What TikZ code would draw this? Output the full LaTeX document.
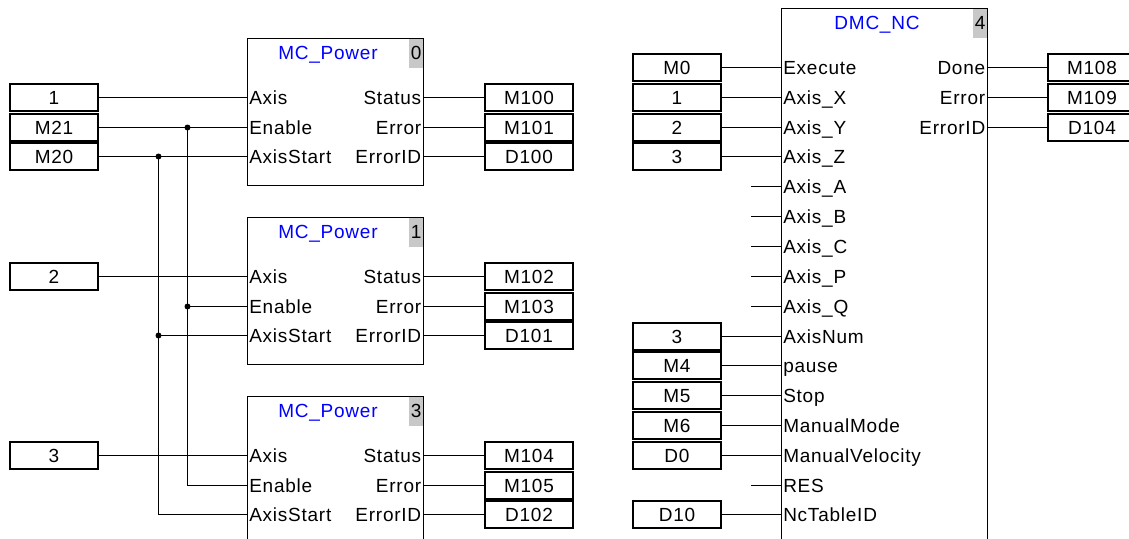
\documentclass[tikz,border=0pt]{standalone}
\usepackage{fontspec}
\newfontfamily\plcfont{Liberation Sans}[LetterSpace=4]
\newdimen\pxu \pxu=0.75pt
\definecolor{numgray}{RGB}{200,200,200}
\definecolor{titleblue}{RGB}{0,0,255}
\newcommand{\plc}{\plcfont\fontsize{14.25}{17}\selectfont}
\begin{document}
\begin{tikzpicture}[x=0.75pt,y=-0.75pt,
  wire/.style={line width=1\pxu},
  valbox/.style={draw, line width=2\pxu, minimum width=88\pxu, minimum height=27\pxu,
    inner sep=0pt, outer sep=0pt, font=\plc, text height=10.2pt, text depth=0pt},
  fblock/.style={draw, line width=1.2\pxu, inner sep=0pt, outer sep=0pt, anchor=north west, minimum width=176\pxu},
  numbox/.style={fill=numgray, minimum width=14\pxu, minimum height=29\pxu, anchor=north east,
    inner sep=0pt, font=\plc},
  pinl/.style={anchor=west, inner sep=0pt, font=\plc, text height=10.2pt, text depth=0pt},
  pinr/.style={anchor=east, inner sep=0pt, font=\plc, text height=10.2pt, text depth=0pt},
  ftitle/.style={inner sep=0pt, font=\plc, text=titleblue, text height=10.2pt, text depth=0pt},
  jdot/.style={circle, fill, inner sep=0pt, minimum size=6\pxu}
]
\useasboundingbox (0,0) rectangle (1129,539);
\clip (0,0) rectangle (1129,539);
\fill[white] (0,0) rectangle (1129,539);

% ---------- MC_Power blocks ----------
\foreach \n/\T/\oa/\ob/\oc in {0/38/M100/M101/D100, 1/217/M102/M103/D101, 3/396/M104/M105/D102} {
  \node[numbox] (g\n) at (423.5,\T+0.5) {\n};
  \node[fblock, minimum height=147\pxu] (b\n) at (247.5,\T+0.5) {};
  \node[ftitle] (t\n) at (328,\T+15) {MC\_Power};
  \coordinate (b\n-ax) at (247.5,\T+59.5);
  \coordinate (b\n-en) at (247.5,\T+89.5);
  \coordinate (b\n-as) at (247.5,\T+118.5);
  \coordinate (b\n-st) at (423.5,\T+59.5);
  \coordinate (b\n-er) at (423.5,\T+89.5);
  \coordinate (b\n-id) at (423.5,\T+118.5);
  \node[pinl] (l\n a) at (249,\T+59.5) {Axis};
  \node[pinl] (l\n b) at (249,\T+89.5) {Enable};
  \node[pinl] (l\n c) at (249,\T+118.5) {AxisStart};
  \node[pinr] (r\n a) at (421.5,\T+59.5) {Status};
  \node[pinr] (r\n b) at (421.5,\T+89.5) {Error};
  \node[pinr] (r\n c) at (421.5,\T+118.5) {ErrorID};
  \node[valbox] (o\n a) at (529,\T+59.5) {\oa};
  \node[valbox] (o\n b) at (529,\T+89.5) {\ob};
  \node[valbox] (o\n c) at (529,\T+118.5) {\oc};
  \draw[wire] (b\n-st) -- (o\n a.west);
  \draw[wire] (b\n-er) -- (o\n b.west);
  \draw[wire] (b\n-id) -- (o\n c.west);
}

% inputs of MC_Power blocks
\node[valbox] (i1) at (54,97.5) {1};
\node[valbox] (i21) at (54,127.5) {M21};
\node[valbox] (i20) at (54,156.5) {M20};
\node[valbox] (i2) at (54,276.5) {2};
\node[valbox] (i3) at (54,455.5) {3};
\draw[wire] (i1.east) -- (b0-ax);
\draw[wire] (i21.east) -- (b0-en);
\draw[wire] (i20.east) -- (b0-as);
\draw[wire] (i2.east) -- (b1-ax);
\draw[wire] (i3.east) -- (b3-ax);

% buses
\coordinate (je0) at (187.5,127.5);
\coordinate (je1) at (187.5,306.5);
\coordinate (je3) at (187.5,485.5);
\coordinate (js0) at (158.5,156.5);
\coordinate (js1) at (158.5,335.5);
\coordinate (js3) at (158.5,514.5);
\draw[wire] (je0) -- (je3) -- (b3-en);
\draw[wire] (je1) -- (b1-en);
\draw[wire] (js0) -- (js3) -- (b3-as);
\draw[wire] (js1) -- (b1-as);
\node[jdot] (dje0) at (je0) {};
\node[jdot] (dje1) at (je1) {};
\node[jdot] (djs0) at (js0) {};
\node[jdot] (djs1) at (js1) {};

% ---------- DMC_NC block ----------
\node[numbox] (g4) at (987.5,8.5) {4};
\node[fblock, minimum width=206\pxu, minimum height=560\pxu] (dmc) at (781.5,8.5) {};
\node[ftitle] (tdmc) at (877,23) {DMC\_NC};
\foreach \i/\y/\lab in {0/67.5/Execute, 1/97.5/Axis\_X, 2/127.5/Axis\_Y, 3/156.5/Axis\_Z,
  4/186.5/Axis\_A, 5/216.5/Axis\_B, 6/246.5/Axis\_C, 7/276.5/Axis\_P, 8/306.5/Axis\_Q,
  9/336.5/AxisNum, 10/365.5/pause, 11/395.5/Stop, 12/425.5/ManualMode,
  13/455.5/ManualVelocity, 14/485.5/RES, 15/514.5/NcTableID} {
  \coordinate (d-\i) at (781.5,\y);
  \node[pinl] (dl\i) at (783,\y) {\lab};
}
\foreach \i/\y/\val in {0/67.5/M0, 1/97.5/1, 2/127.5/2, 3/156.5/3, 9/336.5/3, 10/365.5/M4,
  11/395.5/M5, 12/425.5/M6, 13/455.5/D0, 15/514.5/D10} {
  \node[valbox] (di\i) at (677,\y) {\val};
  \draw[wire] (di\i.east) -- (d-\i);
}
\foreach \i/\y in {4/186.5, 5/216.5, 6/246.5, 7/276.5, 8/306.5, 14/485.5} {
  \coordinate (ds\i) at (751,\y);
  \draw[wire] (ds\i) -- (d-\i);
}
\foreach \i/\y/\lab/\val in {0/67.5/Done/M108, 1/97.5/Error/M109, 2/127.5/ErrorID/D104} {
  \coordinate (dq\i) at (987.5,\y);
  \node[pinr] (dr\i) at (985.5,\y) {\lab};
  \node[valbox] (do\i) at (1092,\y) {\val};
  \draw[wire] (dq\i) -- (do\i.west);
}
\end{tikzpicture}
\end{document}
